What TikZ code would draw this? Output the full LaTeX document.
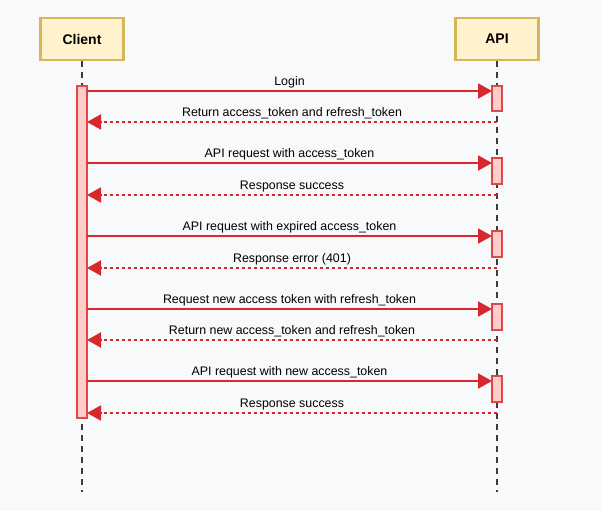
\documentclass[tikz,border=0pt]{standalone}
\usepackage{fontspec}
\setmainfont{Liberation Sans}
\usetikzlibrary{arrows.meta}
\definecolor{bgc}{HTML}{F8F9FA}
\definecolor{boxfill}{HTML}{FFF2CC}
\definecolor{boxdraw}{HTML}{D6B656}
\definecolor{actfill}{HTML}{FFCCCC}
\definecolor{actdraw}{HTML}{E04848}
\definecolor{arr}{HTML}{D9282D}
\definecolor{life}{HTML}{3A3A3A}
\begin{document}
\begin{tikzpicture}[x=1pt,y=-1pt,
  actor/.style={draw=boxdraw,fill=boxfill,line width=2.2pt,minimum width=83pt,minimum height=42pt,font=\bfseries\fontsize{14}{16}\selectfont,inner sep=0pt},
  act/.style={draw=actdraw,fill=actfill,line width=1.4pt,minimum width=10pt,inner sep=0pt},
  lifeline/.style={draw=life,line width=2.4pt,dash pattern=on 6pt off 5pt},
  msg/.style={draw=arr,line width=2pt,-{Triangle[length=14pt,width=15pt]}},
  ret/.style={draw=arr,line width=2pt,dash pattern=on 3pt off 3pt,-{Triangle[length=14pt,width=15pt]}},
  lbl/.style={font=\fontsize{12.4}{14}\selectfont,inner sep=0pt,anchor=base,yshift=5.5pt}
]
\fill[bgc] (0,0) rectangle (601,511);
\useasboundingbox (0,0) rectangle (601,511);
\node[actor] (client) at (82,39) {Client};
\node[actor] (api) at (497,39) {API};
\coordinate (cend) at (82,492);
\coordinate (aend) at (497,492);
\draw[lifeline] (client.south) -- (cend);
\draw[lifeline] (api.south) -- (aend);
% activations
\node[act,minimum height=332pt] (ca) at (82,252) {};
\node[act,minimum height=25pt] (a1) at (497,98.5) {};
\node[act,minimum height=26pt] (a2) at (497,171) {};
\node[act,minimum height=26pt] (a3) at (497,244) {};
\node[act,minimum height=26pt] (a4) at (497,317) {};
\node[act,minimum height=26pt] (a5) at (497,389) {};
% coordinates for messages
\foreach \n/\y in {1/91,3/163,5/236,7/309,9/381}{
  \coordinate (s\n) at (87,\y);
  \coordinate (e\n) at (492,\y);
}
\foreach \n/\y in {2/122,4/195,6/268,8/340,10/413}{
  \coordinate (s\n) at (497,\y);
  \coordinate (e\n) at (87,\y);
}
\draw[msg] (s1) -- node[lbl]{Login} (e1);
\draw[ret] (s2) -- node[lbl]{Return access\_token and refresh\_token} (e2);
\draw[msg] (s3) -- node[lbl]{API request with access\_token} (e3);
\draw[ret] (s4) -- node[lbl]{Response success} (e4);
\draw[msg] (s5) -- node[lbl]{API request with expired access\_token} (e5);
\draw[ret] (s6) -- node[lbl]{Response error (401)} (e6);
\draw[msg] (s7) -- node[lbl]{Request new access token with refresh\_token} (e7);
\draw[ret] (s8) -- node[lbl]{Return new access\_token and refresh\_token} (e8);
\draw[msg] (s9) -- node[lbl]{API request with new access\_token} (e9);
\draw[ret] (s10) -- node[lbl]{Response success} (e10);
\end{tikzpicture}
\end{document}
